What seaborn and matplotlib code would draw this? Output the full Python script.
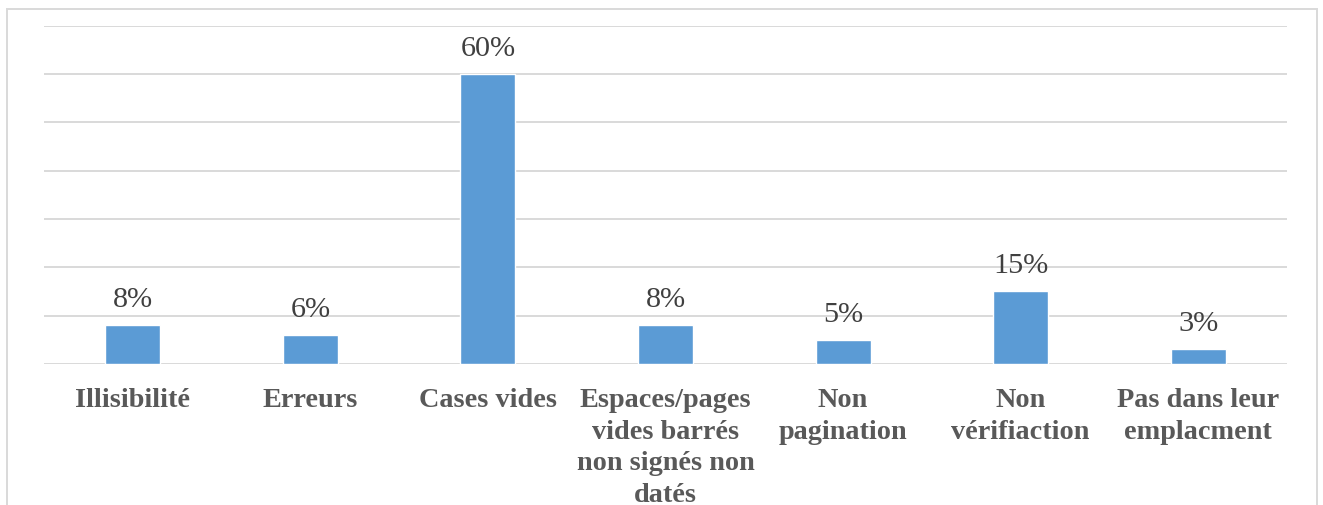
import matplotlib
matplotlib.use("Agg")
import matplotlib.pyplot as plt
from matplotlib.patches import Rectangle
import seaborn as sns
import pandas as pd

categories = ["Illisibilité", "Erreurs", "Cases vides",
              "Espaces/pages\nvides barrés\nnon signés non\ndatés",
              "Non\npagination", "Non\nvérifiaction", "Pas dans leur\nemplacment"]
values = [8, 6, 60, 8, 5, 15, 3]
value_labels = ["8%", "6%", "60%", "8%", "5%", "15%", "3%"]
y_ticks = [0, 10, 20, 30, 40, 50, 60, 70]

sns.set_style("white")
plt.rcParams["font.family"] = ["Liberation Serif", "DejaVu Serif"]

df = pd.DataFrame({"cat": categories, "val": values})

fig = plt.figure(figsize=(13.23, 5.06), dpi=100)
ax = fig.add_axes([44/1323, (506-365)/506, (1287-44)/1323, (365-26.5)/506])

sns.barplot(data=df, x="cat", y="val", color="#5B9BD5", width=0.31,
            saturation=1, ax=ax, zorder=3)

ax.set_ylim(0, 70)
ax.set_xlim(-0.5, len(categories) - 0.5)
ax.set_yticks(y_ticks)
ax.set_yticklabels([])
ax.yaxis.grid(True, color="#D9D9D9", linewidth=1.4, zorder=0)
ax.xaxis.grid(False)
ax.set_axisbelow(True)
for s in ax.spines.values():
    s.set_visible(False)
ax.set_xlabel("")
ax.set_ylabel("")
ax.tick_params(axis="both", length=0)
ax.tick_params(axis="x", pad=16.5)
for lbl in ax.get_xticklabels():
    lbl.set_fontweight("bold")
    lbl.set_fontsize(20.3)
    lbl.set_color("#595959")
    lbl.set_linespacing(1.35)
    lbl.set_verticalalignment("top")

for i, (v, t) in enumerate(zip(values, value_labels)):
    ax.annotate(t, xy=(i, v), xytext=(0, 13.7), textcoords="offset points",
                ha="center", va="baseline", fontsize=21.8, color="#404040")

fig.patches.append(Rectangle((7/1323, -0.05), 1310/1323, (506-10)/506 + 0.05,
                             transform=fig.transFigure, fill=False,
                             edgecolor="#D9D9D9", linewidth=1.4, clip_on=False))

fig.savefig("out.png", dpi=100, facecolor="white")
